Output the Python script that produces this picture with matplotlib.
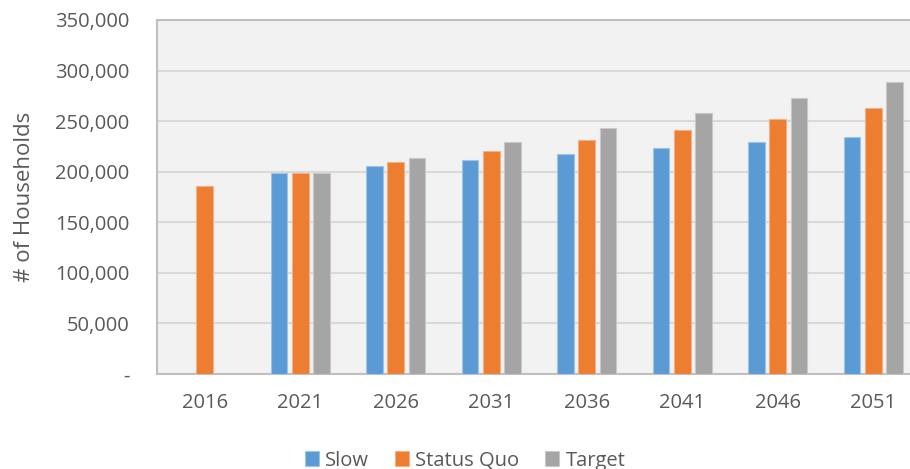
import matplotlib.pyplot as plt
import numpy as np
from matplotlib.ticker import FuncFormatter

years = ["2016", "2021", "2026", "2031", "2036", "2041", "2046", "2051"]
slow = [np.nan, 198400, 206000, 211600, 217200, 223100, 229100, 234600]
status_quo = [186200, 198400, 209600, 220200, 231000, 241200, 252100, 263300]
target = [np.nan, 199000, 213900, 229100, 243200, 257700, 272600, 288300]

series = [
    ("Slow", slow, "#5B9BD5", "#9DC3E6"),
    ("Status Quo", status_quo, "#ED7D31", "#F4B183"),
    ("Target", target, "#A5A5A5", "#C9C9C9"),
]

plt.rcParams["font.family"] = ["Open Sans", "DejaVu Sans"]

fig = plt.figure(figsize=(9.1, 4.69), dpi=100)
ax = fig.add_axes([157 / 910, 1 - 374 / 469, 1 - 157 / 910, 354 / 469])
ax.set_facecolor("#F2F2F2")

x = np.arange(len(years))
pitch = 0.222
width = 0.175
for i, (name, vals, color, edge) in enumerate(series):
    ax.bar(x + (i - 1) * pitch, vals, width, color=color, edgecolor=edge,
           linewidth=0.8, label=name, zorder=3)

ax.set_ylim(0, 350000)
ax.set_xlim(-0.5, 7.385)
ax.set_yticks(np.arange(0, 350001, 50000))
ax.yaxis.set_major_formatter(FuncFormatter(lambda v, p: "-" if v == 0 else f"{int(v):,}"))
ax.set_xticks(x)
ax.set_xticklabels(years)
ax.grid(axis="y", color="#D9D9D9", linewidth=1.5, zorder=0)
ax.tick_params(length=0, labelsize=14.5, colors="#595959")
ax.tick_params(axis="x", pad=14)
ax.tick_params(axis="y", pad=20)

for side in ["left", "bottom", "top"]:
    ax.spines[side].set_color("#BFBFBF")
    ax.spines[side].set_linewidth(1.5)
ax.spines["right"].set_visible(False)

ax.set_ylabel("# of Households", fontsize=16, color="#595959", labelpad=14)

fig.legend(loc="lower center", bbox_to_anchor=(0.511, -0.042), ncol=3, frameon=False,
           fontsize=14.5, labelcolor="#595959", handlelength=0.7, handleheight=0.7,
           handletextpad=0.3, columnspacing=1.3)

fig.savefig("out.png", dpi=100)
